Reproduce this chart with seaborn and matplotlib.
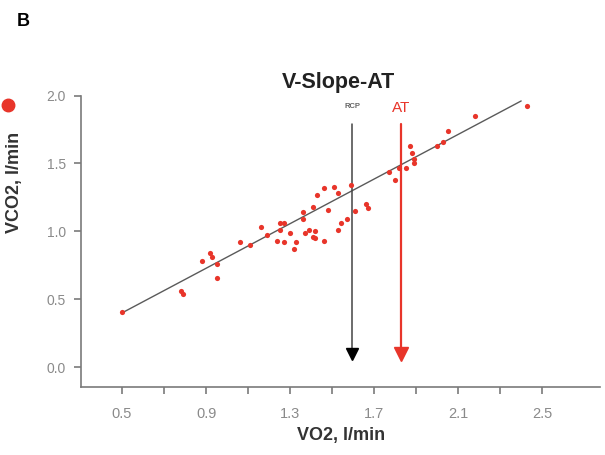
import numpy as np
import pandas as pd
import matplotlib
matplotlib.use('Agg')
import matplotlib.pyplot as plt
import seaborn as sns

# measured points (VO2, VCO2 in l/min)
vo2 = [0.50, 0.78, 0.79, 0.88, 0.92, 0.93, 0.95, 0.95, 1.06, 1.11,
       1.16, 1.19, 1.24, 1.25, 1.27, 1.25, 1.27, 1.30, 1.32, 1.33,
       1.36, 1.36, 1.37, 1.39, 1.41, 1.42, 1.42, 1.46, 1.41, 1.43,
       1.46, 1.48, 1.51, 1.53, 1.54, 1.53, 1.57, 1.59, 1.61, 1.66,
       1.67, 1.77, 1.80, 1.82, 1.85, 1.87, 1.88, 1.89, 1.89, 2.00,
       2.03, 2.05, 2.18, 2.43]
vco2 = [0.41, 0.56, 0.54, 0.78, 0.84, 0.81, 0.76, 0.66, 0.92, 0.90,
        1.03, 0.97, 0.93, 1.06, 1.06, 1.01, 0.92, 0.99, 0.87, 0.92,
        1.14, 1.09, 0.99, 1.01, 0.96, 0.95, 1.00, 0.93, 1.18, 1.27,
        1.32, 1.16, 1.33, 1.28, 1.06, 1.01, 1.09, 1.34, 1.15, 1.20,
        1.17, 1.44, 1.38, 1.47, 1.47, 1.63, 1.58, 1.53, 1.50, 1.63,
        1.66, 1.74, 1.85, 1.92]

# regression line end points
fit_x = [0.50, 2.40]
fit_y = [0.40, 1.96]

# threshold markers
rcp_vo2 = 1.595
at_vo2 = 1.83
arrow_top = 1.79
arrow_tip = 0.05

xticks = [0.5, 0.9, 1.3, 1.7, 2.1, 2.5]
xminor = [0.7, 1.1, 1.5, 1.9, 2.3]
yticks = [0.0, 0.5, 1.0, 1.5, 2.0]

df = pd.DataFrame({'VO2': vo2, 'VCO2': vco2})

sns.set_style('white')
plt.rcParams['font.family'] = ['Liberation Sans', 'DejaVu Sans']

fig = plt.figure(figsize=(6.05, 4.55), dpi=100)
ax = fig.add_axes([0.134, 0.149, 0.858, 0.653])

grey = '#7a7a7a'
red = '#e8352a'

ax.plot(fit_x, fit_y, color='#5a5a5a', lw=1.0, zorder=2)
sns.scatterplot(data=df, x='VO2', y='VCO2', ax=ax, color=red, s=14,
                linewidth=0, zorder=3, legend=False)

# RCP arrow (grey shaft, black head)
ax.plot([rcp_vo2, rcp_vo2], [arrow_top, arrow_tip + 0.06], color='#444444', lw=1.1, zorder=2)
ax.plot([rcp_vo2], [arrow_tip + 0.045], marker='v', ms=9, color='black', zorder=4)
# AT arrow (red)
ax.plot([at_vo2, at_vo2], [arrow_top, arrow_tip + 0.06], color=red, lw=1.6, zorder=2)
ax.plot([at_vo2], [arrow_tip + 0.045], marker='v', ms=10, color=red, zorder=4)

ax.text(rcp_vo2, 1.91, 'RCP', color='#666666', fontsize=5.5, ha='center', va='baseline',
        fontweight='bold')
ax.text(at_vo2, 1.88, 'AT', color=red, fontsize=11, ha='center', va='baseline')

ax.set_xlim(0.305, 2.776)
ax.set_ylim(-0.147, 2.04)
ax.set_xticks(xticks)
ax.set_xticks(xminor, minor=True)
ax.set_yticks(yticks)
ax.set_xticklabels([f'{t:.1f}' for t in xticks])
ax.set_yticklabels([f'{t:.1f}' for t in yticks])

for s in ['top', 'right']:
    ax.spines[s].set_visible(False)
for s in ['left', 'bottom']:
    ax.spines[s].set_color(grey)
    ax.spines[s].set_linewidth(1.2)
ax.spines['left'].set_bounds(-0.147, 2.0)

ax.tick_params(axis='both', which='both', direction='out', length=5, width=1.2,
               color=grey, labelcolor='#8a8a8a')
ax.tick_params(axis='x', which='both', bottom=True, pad=9, labelsize=10.5)
ax.tick_params(axis='y', left=True, pad=6, labelsize=10)

ax.set_xlabel('VO2, l/min', fontsize=13, fontweight='bold', color='#333333', va='top')
ax.xaxis.set_label_coords(0.5, -0.135)
ax.set_ylabel('VCO2, l/min', fontsize=13, fontweight='bold', color='#333333',
              va='center')
ax.yaxis.set_label_coords(-0.128, 0.69)

fig.text(338.5 / 605, 1 - 88 / 455, 'V-Slope-AT', fontsize=15.5, fontweight='bold',
         color='#222222', ha='center', va='baseline')
fig.text(23 / 605, 1 - 21 / 455, 'B', fontsize=13, fontweight='bold', color='black',
         ha='center', va='center')
fig.add_artist(plt.Line2D([8 / 605], [1 - 105 / 455], marker='o', ms=9, color=red,
                          transform=fig.transFigure))

fig.savefig('out.png', dpi=100)
